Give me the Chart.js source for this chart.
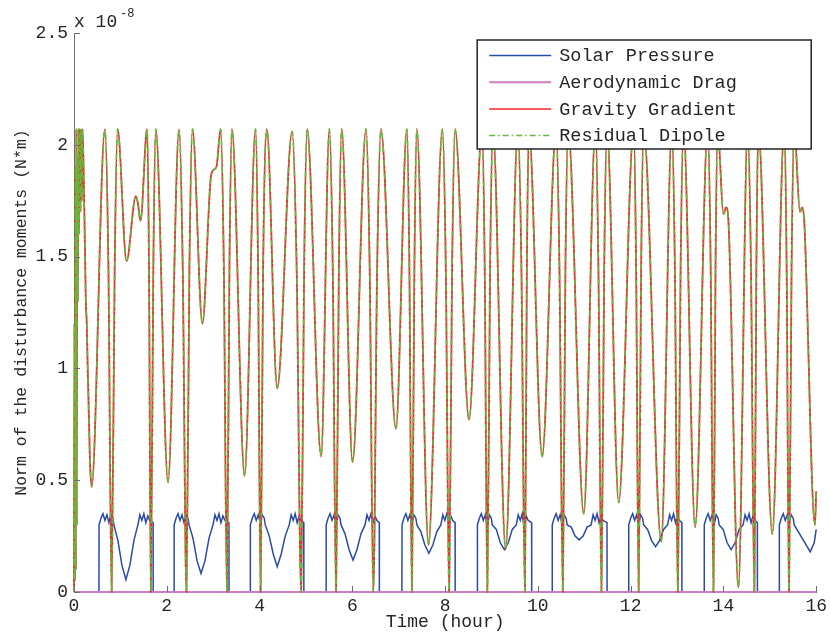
<!DOCTYPE html>
<html>
<head>
<meta charset="utf-8">
<script src="https://cdn.jsdelivr.net/npm/chart.js@4.4.1/dist/chart.umd.min.js"></script>
<style>
  html, body { margin: 0; padding: 0; background: #fff; }
  #wrap { width: 830px; height: 633px; }
</style>
</head>
<body>
<div id="wrap"><canvas id="moments"></canvas></div>
<script>
// values are in units of 1e-8 N*m, time in hours
const seriesNames = ['Solar Pressure', 'Aerodynamic Drag', 'Gravity Gradient', 'Residual Dipole'];
const xTicks = [0, 2, 4, 6, 8, 10, 12, 14, 16];
const yTicks = [0, 0.5, 1, 1.5, 2, 2.5];

const gravityTime = [
  0.000, 0.010, 0.020, 0.030, 0.040, 0.050, 0.060, 0.072, 0.084, 0.096, 0.110, 0.125, 0.140, 0.155, 0.170, 0.185,
  0.215, 0.235, 0.255, 0.275, 0.290, 0.310, 0.345, 0.380,
  0.667, 0.742, 0.811, 0.877, 0.940, 1.133, 1.333, 1.376, 1.434, 1.576, 1.617, 1.656, 1.710, 1.763,
  2.028, 2.265, 2.344, 2.424, 2.488, 2.553, 2.768, 2.961, 3.069, 3.161, 3.230, 3.297, 3.351, 3.404,
  3.677, 3.914, 3.968, 4.022, 4.077, 4.157, 4.381, 4.703, 4.800, 4.897, 4.961, 5.026,
  5.327, 5.505, 5.578, 5.649, 5.710, 5.770, 6.006, 6.295, 6.374, 6.452, 6.535, 6.617,
  6.940, 7.176, 7.230, 7.284, 7.338, 7.391, 7.641, 7.942, 8.015, 8.086, 8.151, 8.215,
  8.516, 8.796, 8.854, 8.910, 8.970, 9.032, 9.305, 9.570, 9.645, 9.720, 9.763, 9.806,
  10.092, 10.394, 10.465, 10.538, 10.594, 10.652, 10.989, 11.241, 11.305, 11.370, 11.430, 11.490,
  11.742, 12.065, 12.118, 12.172, 12.226, 12.280, 12.660, 12.888, 12.953, 13.017, 13.077, 13.140,
  13.391, 13.662, 13.725, 13.785, 13.830, 13.877, 14.000, 14.058, 14.108, 14.323, 14.523, 14.594, 14.667, 14.710, 14.753,
  15.054, 15.312, 15.363, 15.413, 15.469, 15.527, 15.650, 15.699, 15.742, 15.972, 16.000
];
const gravityValue = [
  0.00, 1.20, 0.05, 1.90, 0.10, 2.07, 0.30, 1.95, 1.30, 2.07, 1.60, 2.07, 1.70, 2.07, 1.75, 2.07,
  1.80, 1.55, 1.30, 1.20, 1.05, 0.88, 0.58, 0.47,
  2.07, 1.45, 0.00, 1.45, 2.07, 1.48, 1.77, 1.74, 1.66, 2.07, 1.45, 0.00, 1.45, 2.07,
  0.49, 2.07, 1.45, 0.00, 1.45, 2.07, 1.20, 1.87, 1.90, 2.07, 1.45, 0.00, 1.45, 2.07,
  0.52, 2.07, 1.45, 0.00, 1.45, 2.07, 0.91, 2.06, 1.45, 0.00, 1.45, 2.07,
  0.605, 2.07, 1.45, 0.00, 1.45, 2.07, 0.58, 2.07, 1.45, 0.00, 1.45, 2.07,
  0.73, 2.07, 1.45, 0.00, 1.45, 2.07, 0.21, 2.07, 1.45, 0.00, 1.45, 2.07,
  0.77, 2.07, 1.45, 0.00, 1.45, 2.07, 0.19, 2.07, 1.45, 0.00, 1.45, 2.07,
  0.605, 2.07, 1.45, 0.00, 1.45, 2.07, 0.35, 2.07, 1.45, 0.00, 1.45, 2.07,
  0.40, 2.07, 1.45, 0.00, 1.45, 2.07, 0.225, 2.07, 1.45, 0.00, 1.45, 2.07,
  0.29, 2.07, 1.45, 0.00, 1.45, 2.07, 1.69, 1.72, 1.66, 0.02, 2.07, 1.45, 0.00, 1.45, 2.07,
  0.26, 2.07, 1.45, 0.00, 1.45, 2.07, 1.70, 1.72, 1.66, 0.30, 0.45
];

// residual dipole sits right on top of the gravity gradient curve
const dipoleTime = gravityTime;
const dipoleValue = gravityValue;

const dragTime = [0, 4, 8, 12, 16];
const dragValue = [0, 0, 0, 0, 0];

const solarTime = [
  0.000,
  0.538, 0.540, 0.581, 0.624, 0.667, 0.710, 0.753, 0.796, 0.839, 0.861, 0.947, 1.033, 1.119, 1.205, 1.291, 1.377, 1.420, 1.463, 1.506, 1.549, 1.592, 1.635, 1.705, 1.707,
  2.157, 2.159, 2.200, 2.243, 2.286, 2.329, 2.372, 2.415, 2.458, 2.480, 2.566, 2.652, 2.738, 2.824, 2.910, 2.996, 3.039, 3.082, 3.125, 3.168, 3.211, 3.254, 3.340, 3.342,
  3.800, 3.802, 3.843, 3.886, 3.929, 3.972, 4.015, 4.058, 4.101, 4.123, 4.209, 4.295, 4.381, 4.467, 4.553, 4.639, 4.682, 4.725, 4.768, 4.811, 4.854, 4.897, 4.953, 4.955,
  5.434, 5.436, 5.477, 5.520, 5.563, 5.606, 5.649, 5.692, 5.735, 5.757, 5.843, 5.929, 6.015, 6.101, 6.187, 6.273, 6.316, 6.359, 6.402, 6.445, 6.488, 6.531, 6.581, 6.583,
  7.069, 7.071, 7.112, 7.155, 7.198, 7.241, 7.284, 7.327, 7.370, 7.392, 7.478, 7.564, 7.650, 7.736, 7.822, 7.908, 7.951, 7.994, 8.037, 8.080, 8.123, 8.166, 8.215, 8.217,
  8.695, 8.697, 8.738, 8.781, 8.824, 8.867, 8.910, 8.953, 8.996, 9.018, 9.104, 9.190, 9.276, 9.362, 9.448, 9.534, 9.577, 9.620, 9.663, 9.706, 9.749, 9.792, 9.865, 9.867,
  10.308, 10.310, 10.351, 10.394, 10.437, 10.480, 10.523, 10.566, 10.609, 10.631, 10.717, 10.803, 10.889, 10.975, 11.061, 11.147, 11.190, 11.233, 11.276, 11.319, 11.362, 11.405, 11.490, 11.492,
  11.957, 11.959, 12.000, 12.043, 12.086, 12.129, 12.172, 12.215, 12.258, 12.280, 12.366, 12.452, 12.538, 12.624, 12.710, 12.796, 12.839, 12.882, 12.925, 12.968, 13.011, 13.054, 13.103, 13.105,
  13.585, 13.587, 13.628, 13.671, 13.714, 13.757, 13.800, 13.843, 13.886, 13.908, 13.994, 14.080, 14.166, 14.252, 14.338, 14.424, 14.467, 14.510, 14.553, 14.596, 14.639, 14.682, 14.731, 14.733,
  15.204, 15.206, 15.247, 15.290, 15.333, 15.376, 15.419, 15.462, 15.505, 15.527, 15.613, 15.699, 15.785, 15.871, 15.957, 16.000
];
const solarValue = [
  0,
  0, 0.30, 0.33, 0.35, 0.32, 0.345, 0.31, 0.345, 0.33, 0.30, 0.23, 0.12, 0.055, 0.12, 0.23, 0.30, 0.345, 0.32, 0.35, 0.31, 0.34, 0.32, 0.31, 0,
  0, 0.30, 0.33, 0.35, 0.32, 0.345, 0.31, 0.345, 0.33, 0.30, 0.24, 0.14, 0.083, 0.14, 0.24, 0.30, 0.345, 0.32, 0.35, 0.31, 0.34, 0.32, 0.31, 0,
  0, 0.30, 0.33, 0.35, 0.32, 0.345, 0.31, 0.345, 0.33, 0.30, 0.25, 0.17, 0.113, 0.17, 0.25, 0.30, 0.345, 0.32, 0.35, 0.31, 0.34, 0.32, 0.31, 0,
  0, 0.30, 0.33, 0.35, 0.32, 0.345, 0.31, 0.345, 0.33, 0.30, 0.26, 0.19, 0.143, 0.19, 0.26, 0.30, 0.345, 0.32, 0.35, 0.31, 0.34, 0.32, 0.31, 0,
  0, 0.30, 0.33, 0.35, 0.32, 0.345, 0.31, 0.345, 0.33, 0.30, 0.27, 0.21, 0.173, 0.21, 0.27, 0.30, 0.345, 0.32, 0.35, 0.31, 0.34, 0.32, 0.31, 0,
  0, 0.30, 0.33, 0.35, 0.32, 0.345, 0.29, 0.345, 0.33, 0.30, 0.28, 0.22, 0.19, 0.22, 0.28, 0.30, 0.345, 0.32, 0.35, 0.28, 0.34, 0.32, 0.31, 0,
  0, 0.30, 0.33, 0.35, 0.32, 0.345, 0.30, 0.345, 0.33, 0.30, 0.29, 0.25, 0.233, 0.25, 0.29, 0.30, 0.345, 0.32, 0.35, 0.31, 0.34, 0.32, 0.31, 0,
  0, 0.30, 0.33, 0.35, 0.32, 0.345, 0.30, 0.345, 0.33, 0.30, 0.28, 0.23, 0.203, 0.23, 0.28, 0.30, 0.345, 0.32, 0.35, 0.31, 0.34, 0.32, 0.31, 0,
  0, 0.30, 0.33, 0.35, 0.32, 0.345, 0.30, 0.345, 0.33, 0.30, 0.28, 0.22, 0.19, 0.22, 0.28, 0.30, 0.345, 0.32, 0.35, 0.31, 0.34, 0.32, 0.31, 0,
  0, 0.30, 0.33, 0.35, 0.32, 0.345, 0.31, 0.345, 0.33, 0.30, 0.27, 0.24, 0.21, 0.18, 0.22, 0.28
];

const colors = ['rgb(40,75,170)', 'rgb(205,125,195)', 'rgb(240,40,40)', 'rgb(100,185,60)'];
const dashes = [[], [], [], [6, 3, 1.5, 3]];
const monoFont = "'Liberation Mono', 'Courier New', monospace";

Chart.defaults.font.family = monoFont;
Chart.defaults.color = '#262626';

const toPoints = (ts, vs) => ts.map((t, i) => ({ x: t, y: vs[i] }));

// inward tick marks, the boxed legend and the x 10^-8 exponent
const decorations = {
  id: 'decorations',
  afterDatasetsDraw(chart) {
    const { ctx, chartArea, scales } = chart;
    ctx.save();
    ctx.strokeStyle = '#6e6e6e';
    ctx.lineWidth = 1;
    yTicks.forEach(v => {
      const y = Math.round(scales.y.getPixelForValue(v)) + 0.5;
      ctx.beginPath(); ctx.moveTo(chartArea.left, y); ctx.lineTo(chartArea.left + 6, y); ctx.stroke();
    });
    xTicks.forEach(v => {
      const x = Math.round(scales.x.getPixelForValue(v)) + 0.5;
      ctx.beginPath(); ctx.moveTo(x, chartArea.bottom); ctx.lineTo(x, chartArea.bottom - 6); ctx.stroke();
    });

    const left = chartArea.right - 339, top = chartArea.top + 7, w = 334, h = 109;
    ctx.fillStyle = '#fff';
    ctx.fillRect(left, top, w, h);
    ctx.strokeStyle = '#222';
    ctx.lineWidth = 1.5;
    ctx.strokeRect(left, top, w, h);
    ctx.font = `18.5px ${monoFont}`;
    ctx.textBaseline = 'middle';
    seriesNames.forEach((name, i) => {
      const y = top + 15.5 + i * 26.7;
      ctx.strokeStyle = colors[i];
      ctx.lineWidth = i === 1 ? 2 : 1.5;
      ctx.setLineDash(dashes[i]);
      ctx.beginPath(); ctx.moveTo(left + 12, y); ctx.lineTo(left + 74, y); ctx.stroke();
      ctx.setLineDash([]);
      ctx.fillStyle = '#262626';
      ctx.fillText(name, left + 82, y + 1);
    });

    ctx.textBaseline = 'alphabetic';
    ctx.font = `18px ${monoFont}`;
    ctx.fillText('x 10', chartArea.left, 27);
    ctx.font = `12px ${monoFont}`;
    ctx.fillText('-8', chartArea.left + 46, 17);
    ctx.restore();
  }
};

new Chart(document.getElementById('moments'), {
  type: 'line',
  data: {
    datasets: [
      { label: seriesNames[0], data: toPoints(solarTime, solarValue), borderColor: colors[0], borderWidth: 1.5, order: 4 },
      { label: seriesNames[1], data: toPoints(dragTime, dragValue), borderColor: colors[1], borderWidth: 2, order: 3 },
      { label: seriesNames[2], data: toPoints(gravityTime, gravityValue), borderColor: colors[2], borderWidth: 1.8,
        cubicInterpolationMode: 'monotone', order: 2 },
      { label: seriesNames[3], data: toPoints(dipoleTime, dipoleValue), borderColor: colors[3], borderWidth: 1.6,
        borderDash: dashes[3], cubicInterpolationMode: 'monotone', order: 1 },
    ],
  },
  options: {
    responsive: true,
    maintainAspectRatio: false,
    animation: false,
    clip: 4,
    elements: { point: { radius: 0 }, line: { tension: 0 } },
    layout: { padding: { top: 33, right: 12, left: 0, bottom: 0 } },
    plugins: { legend: { display: false }, tooltip: { enabled: false } },
    scales: {
      x: {
        type: 'linear', min: 0, max: 16,
        afterBuildTicks: s => { s.ticks = xTicks.map(v => ({ value: v })); },
        afterFit: s => { s.height = 41; },
        grid: { drawOnChartArea: false, drawTicks: false },
        border: { color: '#6e6e6e', width: 1 },
        ticks: { padding: 3, font: { size: 18 }, maxRotation: 0, callback: v => `${v}` },
        title: { display: true, text: 'Time (hour)', font: { size: 18 }, padding: { top: 0, bottom: 0 } },
      },
      y: {
        type: 'linear', min: 0, max: 2.5,
        afterBuildTicks: s => { s.ticks = yTicks.map(v => ({ value: v })); },
        afterFit: s => { s.width = 74; },
        grid: { drawOnChartArea: false, drawTicks: false },
        border: { color: '#6e6e6e', width: 1 },
        ticks: { padding: 6, font: { size: 18 }, callback: v => `${v}` },
        title: { display: true, text: 'Norm of the disturbance moments (N*m)', font: { size: 16.5 }, padding: { top: 12, bottom: 0 } },
      },
    },
  },
  plugins: [decorations],
});
</script>
</body>
</html>
